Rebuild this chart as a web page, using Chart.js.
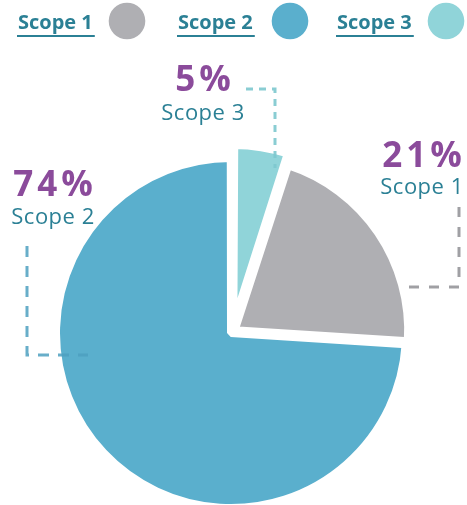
<!DOCTYPE html>
<html>
<head>
<meta charset="utf-8">
<script src="https://cdn.jsdelivr.net/npm/chart.js@4"></script>
<style>
  html, body { margin: 0; padding: 0; background: #fff; }
  #wrap { width: 467px; height: 505px; }
</style>
</head>
<body>
<div id="wrap"><canvas id="scopeChart"></canvas></div>
<script>
// share of emissions per scope, clockwise from 12 o'clock
const scopes = ['Scope 3', 'Scope 1', 'Scope 2'];
const shares = [5, 21, 74];
const sliceColors = ['#90d4d9', '#afafb3', '#5aafcd'];
// exploded look: slices nudged outwards, thick white border opens the gaps
const sliceOffsets = [32, 12, 6];

// legend reads left to right
const legendOrder = ['Scope 1', 'Scope 2', 'Scope 3'];

const TEXT_TEAL = '#2b8095';
const PURPLE = '#8b4b9b';

// where each callout sits and how its dashed leader runs
const callouts = {
  'Scope 3': { cx: 203, pctY: 91, nameY: 120, color: 'rgba(125,200,206,0.9)', dash: [7, 6],
               path: [[246, 89], [275, 89], [275, 168]] },
  'Scope 1': { cx: 422, pctY: 167, nameY: 194, color: 'rgba(150,150,154,0.9)', dash: [10, 10],
               path: [[459, 207], [459, 287], [400, 287]] },
  'Scope 2': { cx: 53, pctY: 196, nameY: 224, color: 'rgba(78,160,192,0.85)', dash: [11, 9],
               path: [[27, 246], [27, 355], [88, 355]] }
};

const legendSpots = {
  'Scope 1': { x: 18, cx: 127 },
  'Scope 2': { x: 178, cx: 290 },
  'Scope 3': { x: 337, cx: 446 }
};

const scopeDecor = {
  id: 'scopeDecor',
  afterDraw(chart) {
    const ctx = chart.ctx;
    const ds = chart.data.datasets[0];

    // legend row
    legendOrder.forEach(name => {
      const i = chart.data.labels.indexOf(name);
      const spot = legendSpots[name];
      ctx.save();
      ctx.font = 'bold 20px "Open Sans"';
      ctx.fillStyle = TEXT_TEAL;
      ctx.textBaseline = 'alphabetic';
      ctx.fillText(name, spot.x, 29);
      const w = ctx.measureText(name).width;
      ctx.fillRect(spot.x - 1, 35, w + 3, 2);
      ctx.beginPath();
      ctx.arc(spot.cx, 21, 18.3, 0, Math.PI * 2);
      ctx.fillStyle = ds.backgroundColor[i];
      ctx.fill();
      ctx.restore();
    });

    // callouts with dashed leaders
    chart.data.labels.forEach((name, i) => {
      const c = callouts[name];
      ctx.save();
      ctx.strokeStyle = c.color;
      ctx.lineWidth = 3;
      ctx.setLineDash(c.dash);
      ctx.beginPath();
      c.path.forEach(([x, y], k) => k ? ctx.lineTo(x, y) : ctx.moveTo(x, y));
      ctx.stroke();

      ctx.setLineDash([]);
      ctx.textAlign = 'center';
      ctx.fillStyle = PURPLE;
      ctx.font = 'bold 35px "Open Sans"';
      ctx.letterSpacing = '4px';
      ctx.fillText(ds.data[i] + '%', c.cx + 2, c.pctY);
      ctx.fillStyle = TEXT_TEAL;
      ctx.font = '22px "Open Sans"';
      ctx.letterSpacing = '0.5px';
      ctx.fillText(name, c.cx, c.nameY);
      ctx.restore();
    });
  }
};

new Chart(document.getElementById('scopeChart'), {
  type: 'pie',
  data: {
    labels: scopes,
    datasets: [{
      data: shares,
      backgroundColor: sliceColors,
      borderColor: '#ffffff',
      borderWidth: 8,
      offset: sliceOffsets,
      radius: 173.5
    }]
  },
  options: {
    responsive: true,
    maintainAspectRatio: false,
    animation: false,
    layout: { padding: { left: 32.1, right: 34.9, top: 162, bottom: 3 } },
    plugins: {
      legend: { display: false },
      tooltip: { enabled: false }
    }
  },
  plugins: [scopeDecor]
});
</script>
</body>
</html>
